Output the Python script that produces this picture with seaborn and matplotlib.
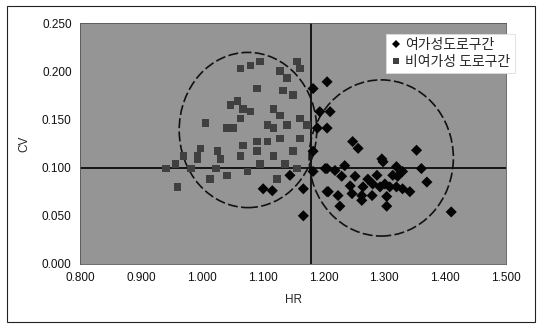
import numpy as np
import pandas as pd
import matplotlib
matplotlib.use("Agg")
import matplotlib.pyplot as plt
from matplotlib.patches import Ellipse, Rectangle
import seaborn as sns

# ---- data ----
leisure_label = "여가성도로구간"
nonleisure_label = "비여가성 도로구간"

leisure_hr = [1.183, 1.206, 1.194, 1.190, 1.206, 1.183, 1.211, 1.101, 1.116, 1.145,
              1.167, 1.167, 1.206, 1.206, 1.183, 1.248, 1.257, 1.235, 1.203, 1.219,
              1.296, 1.298, 1.353, 1.320, 1.361, 1.230, 1.252, 1.273, 1.288, 1.314,
              1.330, 1.370, 1.244, 1.265, 1.301, 1.309, 1.320, 1.330, 1.342, 1.208,
              1.224, 1.263, 1.280, 1.304, 1.227, 1.263, 1.304, 1.410, 1.322, 1.281,
              1.293, 1.247]
leisure_cv = [0.182, 0.189, 0.158, 0.141, 0.141, 0.117, 0.158, 0.078, 0.076, 0.092,
              0.078, 0.050, 0.099, 0.075, 0.096, 0.127, 0.120, 0.102, 0.099, 0.097,
              0.109, 0.106, 0.118, 0.101, 0.099, 0.091, 0.091, 0.088, 0.092, 0.092,
              0.096, 0.085, 0.081, 0.080, 0.083, 0.080, 0.080, 0.078, 0.075, 0.075,
              0.071, 0.071, 0.071, 0.070, 0.060, 0.066, 0.060, 0.054, 0.091, 0.083,
              0.080, 0.073]

nonleisure_hr = [1.064, 1.080, 1.096, 1.129, 1.140, 1.157, 1.162, 1.091, 1.134, 1.150,
                 1.047, 1.059, 1.068, 1.080, 1.064, 1.042, 1.052, 1.118, 1.129, 1.108,
                 1.118, 1.140, 1.162, 1.173, 1.129, 1.108, 1.091, 1.068, 1.026, 0.998,
                 0.993, 1.064, 1.091, 1.118, 1.150, 0.941, 0.960, 0.970, 0.993, 1.014,
                 1.042, 1.075, 1.124, 1.157, 0.982, 0.957, 1.023, 1.096, 1.137, 1.162,
                 1.006, 1.031]
nonleisure_cv = [0.203, 0.206, 0.210, 0.200, 0.193, 0.210, 0.203, 0.182, 0.180, 0.175,
                 0.165, 0.169, 0.161, 0.158, 0.151, 0.141, 0.141, 0.161, 0.154, 0.144,
                 0.141, 0.144, 0.151, 0.144, 0.130, 0.127, 0.127, 0.123, 0.117, 0.120,
                 0.112, 0.112, 0.117, 0.112, 0.117, 0.099, 0.080, 0.112, 0.109, 0.088,
                 0.092, 0.096, 0.088, 0.099, 0.099, 0.104, 0.099, 0.104, 0.104, 0.130,
                 0.146, 0.109]

# reference lines and the two dashed cluster circles (centre x, centre y, width, height)
hr_split = 1.18
cv_split = 0.100
cluster_circles = [(1.076, 0.139, 0.226, 0.161), (1.295, 0.110, 0.237, 0.162)]

x_ticks = [0.8, 0.9, 1.0, 1.1, 1.2, 1.3, 1.4, 1.5]
y_ticks = [0.0, 0.05, 0.10, 0.15, 0.20, 0.25]

df = pd.DataFrame({
    "HR": leisure_hr + nonleisure_hr,
    "CV": leisure_cv + nonleisure_cv,
    "group": [leisure_label] * len(leisure_hr) + [nonleisure_label] * len(nonleisure_hr),
})

sns.set_style("white")
plt.rcParams["font.family"] = ["Liberation Sans", "Noto Sans CJK KR", "DejaVu Sans"]

fig = plt.figure(figsize=(5.4, 3.24), dpi=100)
ax = fig.add_axes([80 / 540, 1 - 264 / 324, (506 - 80) / 540, (264 - 23) / 324])
ax.set_facecolor("#959595")

ax.axhline(cv_split, color="black", lw=1.2, zorder=2)
ax.axvline(hr_split, color="black", lw=1.2, zorder=2)

for cx, cy, w, h in cluster_circles:
    ax.add_patch(Ellipse((cx, cy), w, h, fill=False, ls=(0, (6, 2)), lw=1.2,
                         edgecolor="#111111", zorder=3))

sns.scatterplot(data=df, x="HR", y="CV", hue="group", style="group",
                markers={leisure_label: "D", nonleisure_label: "s"},
                palette={leisure_label: "#050505", nonleisure_label: "#404040"},
                size="group", sizes={leisure_label: 32, nonleisure_label: 30},
                edgecolor="none", linewidth=0, ax=ax, zorder=4)

ax.set_xlim(0.8, 1.5)
ax.set_ylim(0.0, 0.25)
ax.set_xticks(x_ticks)
ax.set_yticks(y_ticks)
ax.set_xticklabels([f"{v:.3f}" for v in x_ticks])
ax.set_yticklabels([f"{v:.3f}" for v in y_ticks])
ax.tick_params(axis="both", length=0, labelsize=8.5, pad=6, colors="#111111")
ax.set_xlabel("HR", fontsize=8.5, labelpad=7)
ax.set_ylabel("CV", fontsize=8.5, labelpad=8)
for sp in ax.spines.values():
    sp.set_color("#555555")
    sp.set_linewidth(0.6)

leg = ax.legend(loc="upper right", bbox_to_anchor=(1.02, 0.955), frameon=True,
                fancybox=False, edgecolor="#dddddd", facecolor="white", framealpha=1,
                fontsize=10, handletextpad=0.2, borderpad=0.3, labelspacing=0.2,
                handlelength=0.9, borderaxespad=0.0, markerscale=0.8)
leg.get_frame().set_linewidth(0.6)
for t in leg.get_texts():
    t.set_fontfamily(["Noto Sans CJK KR", "DejaVu Sans"])

fig.patches.append(Rectangle((7 / 540, 2 / 324), 528 / 540, 316 / 324, transform=fig.transFigure,
                             fill=False, edgecolor="#222222", lw=0.8))

fig.savefig("out.png", dpi=100)
